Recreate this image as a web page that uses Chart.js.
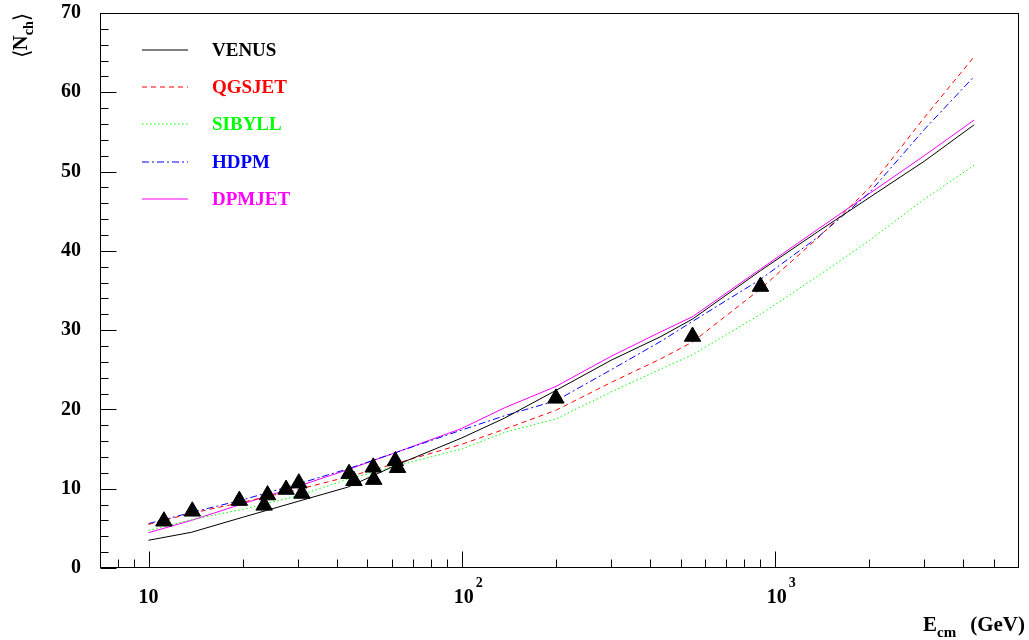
<!DOCTYPE html>
<html>
<head>
<meta charset="utf-8">
<script src="https://cdn.jsdelivr.net/npm/chart.js@4.4.1/dist/chart.umd.min.js"></script>
<style>
  html, body { margin: 0; padding: 0; background: #fff; }
</style>
</head>
<body>
<canvas id="nchChart" width="1029" height="640"></canvas>
<script>
// model curves at these cm energies (GeV)
const energies = [10, 13.7, 20, 30, 43.3, 62, 100, 137, 200, 300, 433, 546, 900, 1370, 2000, 3000, 4331];
const venus  = [3.5, 4.5, 6.4, 8.4, 10.2, 13.0, 16.4, 18.9, 22.4, 26.2, 29.2, 31.4, 37.5, 42.4, 46.7, 51.3, 55.9];
const qgsjet = [5.5, 6.9, 8.3, 9.9, 11.5, 13.2, 15.6, 17.5, 19.9, 23.4, 26.4, 28.5, 35.2, 41.6, 47.9, 56.8, 64.5];
const sibyll = [4.75, 6.1, 7.4, 9.1, 11.2, 12.9, 15.0, 17.1, 18.8, 22.2, 25.1, 26.9, 32.0, 36.8, 41.3, 46.5, 50.8];
const hdpm   = [5.6, 7.0, 8.6, 10.6, 12.5, 14.6, 17.4, 19.2, 21.1, 25.0, 28.6, 31.1, 36.4, 41.7, 47.3, 55.3, 62.0];
const dpmjet = [4.45, 6.0, 8.1, 10.3, 12.4, 14.6, 17.6, 20.2, 22.9, 26.7, 29.8, 31.7, 37.7, 42.7, 47.2, 52.0, 56.5];

// measured points (triangles)
const dataE = [11.2, 13.8, 19.5, 23.4, 24.0, 27.5, 30.2, 30.9, 43.7, 45.3, 52.2, 52.4, 61.4, 62.4, 200, 546, 900];
const dataN = [5.9, 7.15, 8.5, 7.9, 9.2, 9.9, 10.7, 9.4, 11.9, 11.0, 12.7, 11.15, 13.5, 12.65, 21.4, 29.2, 35.5];

// axis ticks
const xTicks = [8, 9, 10, 20, 30, 40, 50, 60, 70, 80, 90, 100, 200, 300, 400, 500, 600, 700, 800, 900,
                1000, 2000, 3000, 4000, 5000];
const xTickLabels = { 10: ['10', ''], 100: ['10', '2'], 1000: ['10', '3'] };
const yTickLabels = [0, 10, 20, 30, 40, 50, 60, 70];

const SERIF = '"Liberation Serif", "Times New Roman", serif';

function curve(label, values, color, dash) {
    return {
        label: label,
        data: energies.map((e, i) => ({ x: e, y: values[i] })),
        showLine: true,
        borderColor: color,
        borderWidth: 1,
        borderDash: dash,
        pointRadius: 0,
        tension: 0,
        order: 1,
        inLegend: true
    };
}

/* frame, inward ticks, x labels, legend and axis titles */
const decorations = {
    id: 'decorations',
    afterDraw(chart) {
        const { ctx, chartArea: a, scales: { x, y } } = chart;
        ctx.save();
        ctx.strokeStyle = '#000';
        ctx.lineWidth = 1;
        const L = Math.round(a.left) + 0.5, R = Math.round(a.right) - 0.5;
        const T = Math.round(a.top) + 0.5, B = Math.round(a.bottom) - 0.5;
        ctx.strokeRect(L, T, R - L, B - T);

        ctx.beginPath();
        y.ticks.forEach(t => {
            const py = Math.round(y.getPixelForValue(t.value)) + 0.5;
            const len = t.value % 10 === 0 ? 16 : 8;
            ctx.moveTo(L, py);
            ctx.lineTo(L + len, py);
        });
        x.ticks.forEach(t => {
            const px = Math.round(x.getPixelForValue(t.value)) + 0.5;
            const len = xTickLabels[t.value] ? 16 : 8;
            ctx.moveTo(px, B);
            ctx.lineTo(px, B - len);
        });
        ctx.stroke();

        // x tick labels with raised exponent
        ctx.fillStyle = '#000';
        ctx.textBaseline = 'alphabetic';
        Object.keys(xTickLabels).forEach(k => {
            const [base, exp] = xTickLabels[k];
            const px = x.getPixelForValue(Number(k));
            ctx.font = 'bold 20px ' + SERIF;
            const w = ctx.measureText(base).width;
            const shift = exp ? 2 : 0;
            ctx.textAlign = 'left';
            ctx.fillText(base, px - w / 2 + shift, a.bottom + 35);
            if (exp) {
                ctx.font = 'bold 14px ' + SERIF;
                ctx.fillText(exp, px + w / 2 + shift + 2, a.bottom + 19);
            }
        });

        // legend
        const items = chart.data.datasets.filter(d => d.inLegend);
        items.forEach((d, i) => {
            const yy = Math.round(a.top + 37 + i * 37.2);
            ctx.strokeStyle = d.borderColor;
            ctx.lineWidth = 1.2;
            ctx.setLineDash(d.borderDash);
            ctx.beginPath();
            ctx.moveTo(a.left + 42, yy);
            ctx.lineTo(a.left + 88, yy);
            ctx.stroke();
            ctx.setLineDash([]);
            ctx.fillStyle = d.borderColor;
            ctx.font = 'bold 19px ' + SERIF;
            ctx.textBaseline = 'middle';
            ctx.textAlign = 'left';
            ctx.fillText(d.label, a.left + 112, yy + 1);
        });

        // y title  <N_ch>
        ctx.fillStyle = '#000';
        ctx.save();
        ctx.translate(27, 58);
        ctx.rotate(-Math.PI / 2);
        ctx.textBaseline = 'alphabetic';
        ctx.textAlign = 'left';
        let cx = 0;
        ctx.font = '22px "DejaVu Serif", serif';
        ctx.fillText('\u27e8', cx, 2);
        cx += ctx.measureText('\u27e8').width - 1;
        ctx.font = 'bold 21px ' + SERIF;
        ctx.fillText('N', cx, 0);
        cx += ctx.measureText('N').width;
        ctx.font = 'bold 14px ' + SERIF;
        ctx.fillText('ch', cx, 6);
        cx += ctx.measureText('ch').width;
        ctx.font = '22px "DejaVu Serif", serif';
        ctx.fillText('\u27e9', cx, 2);
        ctx.restore();

        // x title  E_cm (GeV)
        ctx.textBaseline = 'alphabetic';
        ctx.textAlign = 'left';
        ctx.font = 'bold 21px ' + SERIF;
        ctx.fillText('E', 923, 631);
        ctx.font = 'bold 15px ' + SERIF;
        ctx.fillText('cm', 937, 637);
        ctx.font = 'bold 21px ' + SERIF;
        ctx.textAlign = 'right';
        ctx.fillText('(GeV)', 1025, 631);
        ctx.restore();
    }
};

const chart = new Chart(document.getElementById('nchChart'), {
    type: 'scatter',
    data: {
        datasets: [
            {
                label: 'data',
                data: dataE.map((e, i) => ({ x: e, y: dataN[i] })),
                pointStyle: 'triangle',
                pointRadius: 9.5,
                backgroundColor: '#000',
                borderColor: '#000',
                borderWidth: 1,
                showLine: false,
                order: 0
            },
            curve('VENUS', venus, '#000000', []),
            curve('QGSJET', qgsjet, '#ff0000', [5, 4]),
            curve('SIBYLL', sibyll, '#00ff00', [1.5, 2.5]),
            curve('HDPM', hdpm, '#0000ff', [7, 3, 2, 3]),
            curve('DPMJET', dpmjet, '#ff00ff', [])
        ]
    },
    options: {
        responsive: false,
        animation: false,
        devicePixelRatio: 1,
        layout: { padding: { top: 13, right: 3, left: 0, bottom: 0 } },
        plugins: {
            legend: { display: false },
            tooltip: { enabled: false }
        },
        scales: {
            x: {
                type: 'logarithmic',
                min: 7,
                max: 6000,
                afterBuildTicks: s => { s.ticks = xTicks.map(v => ({ value: v })); },
                afterFit: s => { s.height = 72; s.paddingLeft = 0; s.paddingRight = 0; },
                grid: { display: false, drawTicks: false },
                border: { display: false },
                ticks: { display: false }
            },
            y: {
                min: 0,
                max: 70,
                afterFit: s => { s.width = 100; s.paddingTop = 0; s.paddingBottom = 0; },
                grid: { display: false, drawTicks: false },
                border: { display: false },
                ticks: {
                    stepSize: 2,
                    autoSkip: false,
                    padding: 19,
                    color: '#000',
                    font: { family: SERIF, size: 20, weight: 'bold' },
                    callback: v => yTickLabels.includes(v) ? String(v) : ''
                }
            }
        }
    },
    plugins: [decorations]
});
</script>
</body>
</html>
